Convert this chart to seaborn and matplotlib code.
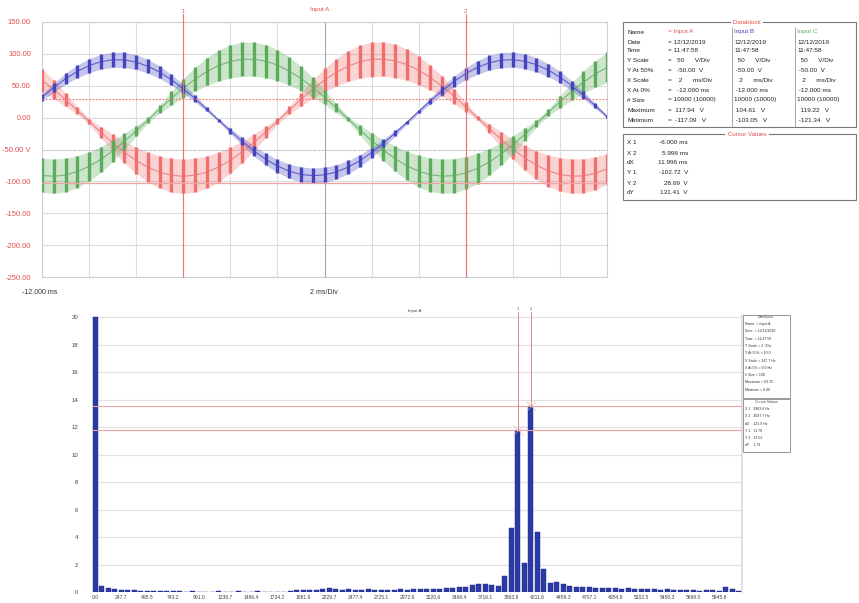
import numpy as np
import pandas as pd
import seaborn as sns
import matplotlib.pyplot as plt
from matplotlib.patches import Rectangle

W, H = 859, 603

# ---- scope traces, every 0.5 ms (-12 ms .. 12 ms)
t_ms = np.linspace(-12, 12, 49)
# Input A (red): trace centre and half height of the ripple band, V
a_mid = [58.5, 44.2, 28.2, 11.4, -6.0, -23.0, -39.3, -54.2, -67.2, -77.7, -85.6, -90.4, -92.0,
         -90.3, -85.5, -77.6, -67.0, -53.9, -39.0, -22.7, -5.6, 11.7, 28.6, 44.4, 58.8, 71.0,
         80.7, 87.6, 91.3, 91.8, 89.1, 83.2, 74.3, 62.8, 49.1, 33.8, 17.1, -0.2, -17.4, -34.0,
         -49.4, -63.1, -74.5, -83.4, -89.1, -91.8, -91.3, -87.4, -80.5]
a_rip = [18.3, 14.5, 10.4, 6.0, 4.6, 9.0, 13.2, 17.1, 20.5, 23.3, 25.3, 26.6, 27.0, 26.6, 25.3,
         23.2, 20.5, 17.1, 13.2, 8.9, 4.5, 6.0, 10.5, 14.6, 18.3, 21.5, 24.0, 25.8, 26.8, 27.0,
         26.2, 24.7, 22.4, 19.4, 15.8, 11.8, 7.5, 3.0, 7.5, 11.9, 15.9, 19.5, 22.4, 24.7, 26.3,
         27.0, 26.8, 25.8, 24.0]
# Input B (blue)
b_mid = [31.9, 47.3, 61.0, 72.6, 81.5, 87.7, 90.7, 90.5, 87.1, 80.5, 71.3, 59.3, 45.3, 29.8,
         13.1, -4.0, -20.9, -37.1, -52.1, -65.2, -75.9, -84.0, -89.1, -91.0, -89.7, -85.3, -77.7,
         -67.5, -54.9, -40.3, -24.3, -7.5, 9.6, 26.5, 42.3, 56.7, 69.0, 78.9, 86.0, 90.1, 90.9,
         88.5, 83.1, 74.6, 63.5, 50.2, 35.1, 18.7, 1.7]
b_rip = [5.5, 7.2, 8.7, 10.0, 11.0, 11.6, 12.0, 11.9, 11.6, 10.9, 9.8, 8.5, 7.0, 5.3, 3.4, 2.4,
         4.3, 6.1, 7.7, 9.2, 10.3, 11.2, 11.8, 12.0, 11.9, 11.4, 10.5, 9.4, 8.0, 6.4, 4.7, 2.8,
         3.1, 4.9, 6.7, 8.2, 9.6, 10.7, 11.5, 11.9, 12.0, 11.7, 11.1, 10.2, 9.0, 7.5, 5.9, 4.1, 2.2]
# Input C (green)
c_mid = [-90.7, -92.0, -90.0, -84.7, -76.5, -65.6, -52.3, -37.3, -20.9, -3.7, 13.6, 30.5, 46.2,
         60.3, 72.2, 81.6, 88.1, 91.5, 91.6, 88.6, 82.3, 73.1, 61.5, 47.6, 31.9, 15.2, -2.1,
         -19.3, -35.8, -51.1, -64.5, -75.6, -84.1, -89.6, -91.9, -91.0, -86.8, -79.6, -69.6,
         -57.0, -42.5, -26.4, -9.5, 7.8, 24.9, 41.0, 55.8, 68.4, 78.8]
c_rip = [26.7, 27.0, 26.5, 25.1, 23.0, 20.1, 16.7, 12.7, 8.4, 4.0, 6.6, 10.9, 15.0, 18.7, 21.8,
         24.3, 26.0, 26.9, 26.9, 26.1, 24.5, 22.1, 19.0, 15.4, 11.3, 7.0, 3.6, 8.0, 12.3, 16.3,
         19.8, 22.7, 24.9, 26.4, 27.0, 26.7, 25.7, 23.8, 21.1, 17.9, 14.1, 9.9, 5.5, 5.0, 9.5,
         13.7, 17.5, 20.9, 23.5]

x1_ms, x2_ms = -6.000, 5.996
y1_v, y2_v = -102.72, 28.69

db_labels = ["Name", "Date", "Time", "Y Scale", "Y At 50%", "X Scale", "X At 0%", "# Size",
             "Maximum", "Minimum"]
db_a = ["Input A", "12/12/2019", "11:47:58", "  50      V/Div", "  -50.00  V", "   2      ms/Div",
        "  -12.000 ms", "10000 (10000)", " 117.94   V", " -117.09   V"]
db_b = ["Input B", "12/12/2019", "11:47:58", "  50      V/Div", " -50.00  V", "   2      ms/Div",
        " -12.000 ms", "10000 (10000)", " 104.61   V", " -103.05   V"]
db_c = ["Input C", "12/12/2019", "11:47:58", "  50      V/Div", " -50.00  V", "   2      ms/Div",
        " -12.000 ms", "10000 (10000)", "  119.22   V", " -121.34   V"]
cur_labels = ["X 1", "X 2", "dX", "Y 1", "Y 2", "dY"]
cur_vals = ["-6.000 ms", "5.996 ms", "11.996 ms", "-102.72  V", "28.69  V", "131.41  V"]

# ---- spectrum of Input A
fft_vals = [20.0, 0.45, 0.30, 0.22, 0.18, 0.15, 0.12, 0.10, 0.10, 0.09, 0.08, 0.06, 0.05, 0.04,
            0.02, 0.05, 0.03, 0.01, 0.02, 0.06, 0.02, 0.01, 0.05, 0.01, 0.02, 0.04, 0.01, 0.01,
            0.03, 0.01, 0.10, 0.15, 0.13, 0.16, 0.18, 0.22, 0.28, 0.20, 0.18, 0.20, 0.17, 0.18,
            0.20, 0.16, 0.18, 0.15, 0.17, 0.20, 0.18, 0.20, 0.22, 0.20, 0.24, 0.25, 0.28, 0.30,
            0.35, 0.40, 0.50, 0.55, 0.60, 0.52, 0.45, 1.20, 4.65, 11.80, 2.10, 13.50, 4.40, 1.70,
            0.65, 0.70, 0.55, 0.45, 0.40, 0.35, 0.33, 0.30, 0.32, 0.28, 0.27, 0.25, 0.26, 0.22,
            0.22, 0.20, 0.21, 0.18, 0.19, 0.16, 0.15, 0.14, 0.12, 0.10, 0.12, 0.15, 0.10, 0.35,
            0.20, 0.05]
freq_labels = ["0.0", "247.7", "495.5", "743.2", "991.0", "1238.7", "1486.4", "1734.2", "1981.9",
               "2229.7", "2477.4", "2725.1", "2972.9", "3220.6", "3468.4", "3716.1", "3963.8",
               "4211.6", "4459.3", "4707.1", "4954.8", "5202.5", "5450.3", "5698.0", "5945.8"]
c1_bin, c2_bin = 65, 67
fy1, fy2 = 11.80, 13.50

small_db = ["Name  = Input A", "Date  = 12/12/2019", "Time  = 11:47:58", "Y Scale = 2  /Div",
            "Y At 50% = 10.0", "X Scale = 247.7 Hz", "X At 0% = 0.0 Hz", "# Size = 100",
            "Maximum = 83.15", "Minimum = 0.00"]
small_cur = ["X 1   3963.8 Hz", "X 2   4087.7 Hz", "dX    123.9 Hz", "Y 1   11.78",
             "Y 2   13.52", "dY    1.74"]

RED = "#ef6f6f"
GREEN = "#5cab5c"
BLUE = "#4444c0"
TXTRED = "#e2504f"


def fx(x):
    return x / W


def fy(y):
    return 1 - y / H


sns.set_theme(style="white")
plt.rcParams["font.family"] = ["Liberation Sans", "DejaVu Sans"]

fig = plt.figure(figsize=(W / 100, H / 100), dpi=100)

# ================= top: scope traces
ax = fig.add_axes([fx(42), fy(277), 565 / W, 255 / H])
ax.set_xlim(-12, 12)
ax.set_ylim(-250, 150)
ax.set_xticks(range(-12, 13, 2))
ax.set_yticks([150, 100, 50, 0, -50, -100, -150, -200, -250])
ax.set_yticklabels(["150.00", "100.00", "50.00", "0.00", "-50.00 V", "-100.00", "-150.00",
                    "-200.00", "-250.00"])
ax.tick_params(axis="y", length=0, labelsize=5.5, labelcolor=TXTRED, pad=8)
ax.tick_params(axis="x", length=0, labelbottom=False)
ax.grid(True, color="#dcdcdc", lw=0.8)
for s in ax.spines.values():
    s.set_color("#d0d0d0")
    s.set_linewidth(0.8)
ax.axvline(0, color="#a8a8a8", lw=0.8, zorder=1)
ax.axhline(-50, color="#c8c8c8", lw=0.8, ls=(0, (2, 2)), zorder=1)

for mid, rip, col in [(a_mid, a_rip, RED), (c_mid, c_rip, GREEN), (b_mid, b_rip, BLUE)]:
    mid = np.array(mid)
    rip = np.array(rip)
    ax.fill_between(t_ms, mid - rip, mid + rip, color=col, alpha=0.3, lw=0, zorder=2)
    df = pd.DataFrame({"t": t_ms, "v": mid})
    sns.lineplot(data=df, x="t", y="v", color=col, lw=0.8, alpha=0.8, ax=ax, zorder=3)
    ax.vlines(t_ms, mid - rip, mid + rip, color=col, lw=2.4, zorder=3)
ax.set_xlabel("")
ax.set_ylabel("")

# cursors
for xc, lab in [(x1_ms, "1"), (x2_ms, "2")]:
    ax.plot([xc, xc], [-250, 162], color=RED, lw=0.8, clip_on=False, zorder=4)
    ax.text(xc, 163, lab, color=TXTRED, fontsize=4, ha="center", va="bottom")
ax.axhline(y2_v, color=RED, lw=0.8, ls=(0, (1.5, 1.5)), zorder=4)
ax.axhline(y1_v, color="#f2a0a0", lw=0.9, zorder=4)

fig.text(fx(320), fy(9), "Input A", color=TXTRED, fontsize=4.5, ha="center", va="center")
fig.text(fx(22), fy(293), "-12.000 ms", color="#333333", fontsize=5, va="center")
fig.text(fx(310), fy(293), "2 ms/Div", color="#333333", fontsize=5, va="center")

# datablock
fig.add_artist(Rectangle((fx(623), fy(127)), 233 / W, 105 / H, transform=fig.transFigure,
                         fill=False, ec="#777777", lw=0.8))
for xs in [732, 795]:
    fig.add_artist(plt.Line2D([fx(xs), fx(xs)], [fy(27), fy(127)], transform=fig.transFigure,
                              color="#999999", lw=0.6))
fig.text(fx(747), fy(22), " Datablock ", color=TXTRED, fontsize=4.5, ha="center", va="center",
         bbox=dict(fc="white", ec="none", pad=0.3))
row_y = [32, 42, 51, 61, 71, 81, 90, 100, 111, 121]
for i, y in enumerate(row_y):
    fig.text(fx(627), fy(y), db_labels[i], fontsize=4.6, va="center", color="#222222")
    fig.text(fx(668), fy(y), "= " + db_a[i], fontsize=4.6, va="center",
             color=TXTRED if i == 0 else "#222222")
    fig.text(fx(734), fy(y), db_b[i], fontsize=4.6, va="center",
             color=BLUE if i == 0 else "#222222")
    fig.text(fx(797), fy(y), db_c[i], fontsize=4.6, va="center",
             color=GREEN if i == 0 else "#222222")

fig.add_artist(Rectangle((fx(623), fy(200)), 233 / W, 66 / H, transform=fig.transFigure,
                         fill=False, ec="#777777", lw=0.8))
fig.text(fx(747), fy(134), " Cursor Values ", color=TXTRED, fontsize=4.5, ha="center",
         va="center", bbox=dict(fc="white", ec="none", pad=0.3))
for i, y in enumerate([143, 153, 163, 173, 183, 192]):
    fig.text(fx(627), fy(y), cur_labels[i], fontsize=4.6, va="center", color="#222222")
    fig.text(fx(688), fy(y), cur_vals[i], fontsize=4.6, va="center", ha="right",
             color="#222222")

# ================= bottom: spectrum
bx = fig.add_axes([fx(92), fy(592), 650 / W, 277 / H])
bins = np.arange(len(fft_vals))
sns.barplot(x=bins, y=fft_vals, color="#2c3aa6", width=0.72, edgecolor="#1c2888",
            linewidth=0.3, saturation=1, ax=bx, zorder=3)
bx.set_xlim(-0.5, len(fft_vals) - 0.5)
bx.set_ylim(0, 20.15)
bx.set_yticks(range(0, 21, 2))
bx.set_yticklabels([str(v) for v in range(0, 21, 2)])
bx.set_xticks(range(0, len(fft_vals), 4))
bx.set_xticklabels(freq_labels)
bx.tick_params(axis="y", length=0, labelsize=4.3, labelcolor="#444444", pad=10)
bx.tick_params(axis="x", length=0, labelsize=3.6, labelcolor="#444444", pad=2)
bx.grid(True, axis="y", color="#e2e2e2", lw=0.9)
bx.set_xlabel("")
bx.set_ylabel("")
for s in bx.spines.values():
    s.set_visible(False)
bx.spines["right"].set_visible(True)
bx.spines["right"].set_color("#dddddd")

bx.axhline(fy2, color="#f0a0a0", lw=0.8, zorder=4)
bx.axhline(fy1, color="#f0a0a0", lw=0.8, zorder=4)
for bc, yv, lab in [(c1_bin, fy1, "1"), (c2_bin, fy2, "2")]:
    bx.plot([bc, bc], [yv, 20.4], color=RED, lw=0.6, clip_on=False, zorder=4)
    bx.text(bc, 20.45, lab, fontsize=3, ha="center", va="bottom", color="#555555")
    bx.plot([bc], [yv], marker="x", ms=7, mew=0.4, color="#e8b0b0", zorder=5)

fig.text(fx(415), fy(311), "Input A", fontsize=3.2, ha="center", va="center", color="#444444")

# small datablock beside the spectrum
fig.add_artist(Rectangle((fx(743), fy(398)), 47 / W, 83 / H, transform=fig.transFigure,
                         fill=False, ec="#888888", lw=0.6))
fig.add_artist(Rectangle((fx(743), fy(452)), 47 / W, 53 / H, transform=fig.transFigure,
                         fill=False, ec="#888888", lw=0.6))
fig.text(fx(766), fy(317), "Datablock", fontsize=2.6, ha="center", va="center", color="#444444")
for i, s in enumerate(small_db):
    fig.text(fx(745), fy(324 + i * 7.3), s, fontsize=2.5, va="center", color="#333333")
fig.text(fx(766), fy(402), "Cursor Values", fontsize=2.6, ha="center", va="center",
         color="#444444")
for i, s in enumerate(small_cur):
    fig.text(fx(745), fy(409 + i * 7.3), s, fontsize=2.5, va="center", color="#333333")

fig.savefig("out.png", dpi=100, facecolor="white")
